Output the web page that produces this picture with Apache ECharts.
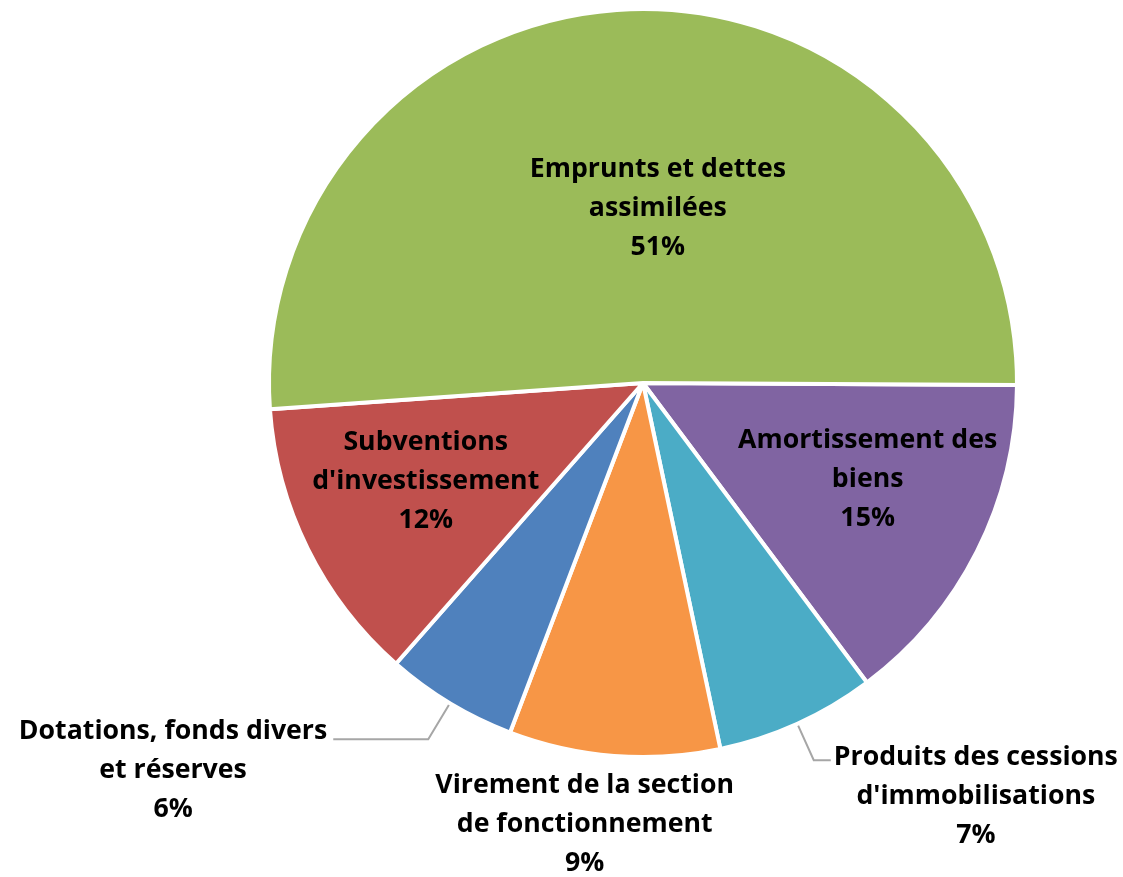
<!DOCTYPE html>
<html><head><meta charset="utf-8">
<script src="https://cdn.jsdelivr.net/npm/echarts@6/dist/echarts.min.js"></script>
<style>html,body{margin:0;padding:0;background:#fff}#c{width:1123px;height:877px}</style>
</head><body><div id="c"></div>
<script>
// Slices in clockwise order starting at 3 o'clock
const categories = [
  "Amortissement des\nbiens",
  "Produits des cessions\nd'immobilisations",
  "Virement de la section\nde fonctionnement",
  "Dotations, fonds divers\net réserves",
  "Subventions\nd'investissement",
  "Emprunts et dettes\nassimilées"
];
// slice shares as drawn in the picture
const values = [14.7, 6.9, 9.1, 5.7, 12.4, 51.2];
// percentages as printed on the picture
const percentLabels = ["15%", "7%", "9%", "6%", "12%", "51%"];
const colors = ['#8064A2', '#4BACC6', '#F79646', '#4F81BD', '#C0504D', '#9BBB59'];

const itemOpts = [
  { label: { position: 'inside' }, labelLine: { show: false } },
  { label: { position: 'outside', padding: [72, 0, 0, 0], distanceToLabelLine: 3 }, labelLine: { show: true, length: 40, length2: 17 } },
  { label: { position: 'outside' }, labelLine: { show: false, length: 69, length2: 19 } },
  { label: { position: 'outside', padding: [62, 0, 0, 0], distanceToLabelLine: 6 }, labelLine: { show: true, length: 42, length2: 95 } },
  { label: { position: 'inside' }, labelLine: { show: false } },
  { label: { position: 'inside' }, labelLine: { show: false } }
];
const insideOffsets = { 0: [55, 11], 4: [-47, 14], 5: [21, 15] };

const data = categories.map((name, i) => Object.assign({
  name: name, value: values[i], itemStyle: { color: colors[i] }
}, itemOpts[i]));

const chart = echarts.init(document.getElementById('c'), null, { renderer: 'canvas' });
chart.setOption({
  backgroundColor: '#ffffff',
  animation: false,
  series: [{
    type: 'pie',
    center: [643, 383],
    radius: 374,
    startAngle: -0.3,
    clockwise: true,
    avoidLabelOverlap: false,
    itemStyle: { borderColor: '#ffffff', borderWidth: 4 },
    emphasis: { disabled: true },
    label: {
      show: true,
      formatter: function (p) {
        const lines = categories[p.dataIndex].split('\n').concat([percentLabels[p.dataIndex]]);
        return lines.map(l => '{t|' + l + '}').join('\n');
      },
      rich: {
        t: { fontFamily: 'Open Sans', fontWeight: 'bold', fontSize: 26.7, lineHeight: 39, color: '#000000', align: 'center' }
      }
    },
    labelLine: { lineStyle: { color: '#a6a6a6', width: 2 } },
    labelLayout: function (p) {
      if (p.dataIndex === 2) return { align: 'center' };
      const o = insideOffsets[p.dataIndex];
      if (o) return { dx: o[0], dy: o[1] };
      return {};
    },
    data: data
  }]
});
</script></body></html>
